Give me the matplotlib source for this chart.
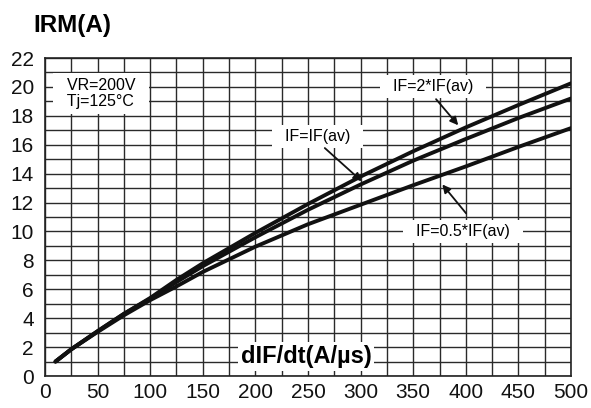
import numpy as np
import matplotlib.pyplot as plt
from matplotlib.ticker import MultipleLocator

plt.rcParams['font.family'] = ['Liberation Sans', 'DejaVu Sans']

# values
didt = [10, 25, 50, 75, 100, 125, 150, 200, 250, 300, 350, 400, 450, 500]
irm_2x = [1.0, 1.85, 3.1, 4.3, 5.4, 6.65, 7.8, 9.9, 11.9, 13.8, 15.55, 17.2, 18.75, 20.25]
irm_1x = [1.0, 1.85, 3.1, 4.3, 5.35, 6.5, 7.6, 9.6, 11.5, 13.25, 14.9, 16.4, 17.85, 19.2]
irm_05x = [1.0, 1.85, 3.05, 4.2, 5.25, 6.2, 7.2, 8.95, 10.5, 11.85, 13.2, 14.5, 15.85, 17.15]

x_ticks = [0, 50, 100, 150, 200, 250, 300, 350, 400, 450, 500]
y_ticks = [0, 2, 4, 6, 8, 10, 12, 14, 16, 18, 20, 22]

fig = plt.figure(figsize=(5.91, 4.08), dpi=100)
ax = fig.add_axes([0.0761, 0.0784, 0.8901, 0.7794])

for series in (irm_2x, irm_1x, irm_05x):
    ax.plot(didt, series, color='#111111', lw=2.8, solid_capstyle='round',
            solid_joinstyle='round', zorder=4)

ax.set_xlim(0, 500)
ax.set_ylim(0, 22)
ax.set_xticks(x_ticks)
ax.set_yticks(y_ticks)
ax.xaxis.set_minor_locator(MultipleLocator(25))
ax.yaxis.set_minor_locator(MultipleLocator(1))
ax.grid(True, which='both', color='#2a2a2a', lw=1.0)
ax.set_axisbelow(True)
ax.tick_params(which='both', length=0, labelsize=15, labelcolor='#111111')
ax.tick_params(axis='x', pad=5)
ax.tick_params(axis='y', pad=8)
for s in ax.spines.values():
    s.set_color('#222222')
    s.set_linewidth(1.2)

box = dict(boxstyle='square,pad=0.25', fc='white', ec='none')
arrow = dict(arrowstyle='-|>', color='#111111', lw=1.3, mutation_scale=12)

ax.text(12, 19.55, '  VR=200V  \n  Tj=125°C  ', fontsize=11.5, ha='left', va='center',
        linespacing=1.1, bbox=dict(boxstyle='square,pad=0.3', fc='white', ec='none'), zorder=3)

ax.text(369, 20.05, '  IF=2*IF(av)  ', fontsize=11.5, ha='center', va='center', bbox=box, zorder=3)
ax.annotate('', xy=(394.5, 17.2), xytext=(370, 19.3), arrowprops=arrow, zorder=5)

ax.text(259, 16.6, '  IF=IF(av)  ', fontsize=11.5, ha='center', va='center', bbox=box, zorder=3)
ax.annotate('', xy=(303, 13.35), xytext=(264, 15.9), arrowprops=arrow, zorder=5)

ax.text(397, 10.0, '  IF=0.5*IF(av)  ', fontsize=11.5, ha='center', va='center', bbox=box, zorder=3)
ax.annotate('', xy=(376, 13.4), xytext=(402, 11.1), arrowprops=arrow, zorder=5)

ax.text(248, 1.35, 'dIF/dt(A/µs)', fontsize=17, fontweight='bold', ha='center', va='center',
        bbox=dict(boxstyle='square,pad=0.12', fc='white', ec='none'), zorder=3)

fig.text(0.056, 0.938, 'IRM(A)', fontsize=17.5, fontweight='bold', ha='left', va='center')

fig.savefig('out.png', dpi=100)
